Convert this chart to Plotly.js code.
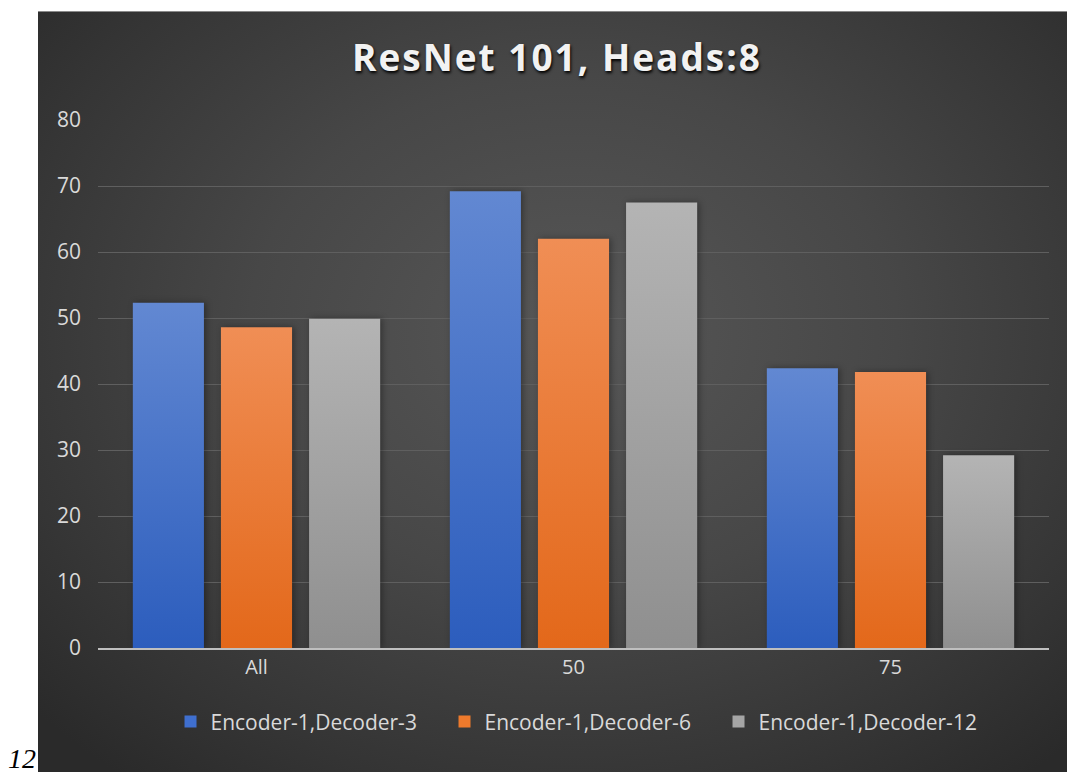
<!DOCTYPE html>
<html>
<head>
<meta charset="utf-8">
<script src="https://cdn.plot.ly/plotly-3.0.1.min.js"></script>
<style>
  html, body { margin: 0; padding: 0; width: 1067px; height: 772px; overflow: hidden; background: #ffffff; }
  #bg { position: absolute; left: 38px; top: 11px; width: 1029px; height: 761px;
        background: radial-gradient(ellipse 70% 75% at 52% 42%, #575757 0%, #474747 45%, #353535 80%, #2a2a2a 100%);
        border-top: 1px solid #8a8a8a; }
  #chart { position: absolute; left: 0; top: 0; width: 1067px; height: 772px; }
  #pagenum { position: absolute; left: 8px; top: 748px; font-family: "Liberation Serif", serif; font-style: italic;
             font-size: 28px; line-height: 22px; color: #000; }
</style>
</head>
<body>
<div id="bg"></div>
<div id="chart"></div>
<div id="pagenum">12</div>
<script>
const categories = ["All", "50", "75"];
const seriesNames = ["Encoder-1,Decoder-3", "Encoder-1,Decoder-6", "Encoder-1,Decoder-12"];
const dec3 = [52.3, 69.2, 42.4];
const dec6 = [48.6, 62.0, 41.8];
const dec12 = [49.9, 67.5, 29.2];
const yTicks = [0, 10, 20, 30, 40, 50, 60, 70, 80];

const solid = ["#3f6fcf", "#ee7a2c", "#a5a5a5"];
const gradTop = ["#6288d2", "#f08e55", "#b4b4b4"];
const gradBot = ["#2c5dbd", "#e3681a", "#8f8f8f"];

const values = [dec3, dec6, dec12];
const traces = values.map((v, i) => ({
  type: "bar",
  name: seriesNames[i],
  x: categories,
  y: v,
  marker: { color: solid[i], line: { width: 0 } },
  hoverinfo: "skip"
}));

const layout = {
  width: 1067, height: 772,
  paper_bgcolor: "rgba(0,0,0,0)",
  plot_bgcolor: "rgba(0,0,0,0)",
  margin: { l: 98, r: 18, t: 120, b: 124 },
  barmode: "group",
  bargap: 0.166,
  bargroupgap: 0.193,
  title: {
    text: "<b>ResNet 101, Heads:8</b>",
    x: 0.522, xref: "container", xanchor: "center",
    y: 0.925, yref: "container", yanchor: "middle",
    font: { family: "Open Sans, sans-serif", size: 37, color: "#f2f2f2", shadow: "1px 2px 3px #000" }
  },
  font: { family: "Open Sans, sans-serif", color: "#d9d9d9" },
  xaxis: {
    type: "category",
    showgrid: false,
    showline: true, linecolor: "#bfbfbf", linewidth: 2,
    ticks: "", ticklen: 0,
    tickfont: { size: 20, color: "#d9d9d9" },
    zeroline: false
  },
  yaxis: {
    range: [0, 80],
    tickvals: yTicks,
    ticktext: yTicks.map(String),
    showgrid: true, gridcolor: "#5f5f5f", gridwidth: 1,
    zeroline: false, showline: false,
    ticks: "", ticklabelstandoff: 16,
    tickfont: { size: 21, color: "#d9d9d9" }
  },
  showlegend: true,
  legend: {
    orientation: "h",
    x: 0.545, xanchor: "center", xref: "container",
    y: 0.065, yref: "container", yanchor: "middle",
    font: { size: 21, color: "#d9d9d9" },
    bgcolor: "rgba(0,0,0,0)",
    itemwidth: 30,
    entrywidth: 229, entrywidthmode: "pixels",
    traceorder: "normal"
  }
};

Plotly.newPlot("chart", traces, layout, { displayModeBar: false, staticPlot: true }).then(gd => {
  const svg = gd.querySelector(".main-svg");
  const ns = "http://www.w3.org/2000/svg";
  let defs = svg.querySelector("defs");
  if (!defs) { defs = document.createElementNS(ns, "defs"); svg.insertBefore(defs, svg.firstChild); }
  for (let i = 0; i < 3; i++) {
    const lg = document.createElementNS(ns, "linearGradient");
    lg.setAttribute("id", "bargrad" + i);
    lg.setAttribute("x1", "0"); lg.setAttribute("y1", "0");
    lg.setAttribute("x2", "0"); lg.setAttribute("y2", "1");
    const s1 = document.createElementNS(ns, "stop");
    s1.setAttribute("offset", "0"); s1.setAttribute("stop-color", gradTop[i]);
    const s2 = document.createElementNS(ns, "stop");
    s2.setAttribute("offset", "1"); s2.setAttribute("stop-color", gradBot[i]);
    lg.appendChild(s1); lg.appendChild(s2);
    defs.appendChild(lg);
  }
  const barTraces = gd.querySelectorAll(".barlayer .trace.bars");
  barTraces.forEach((t, i) => {
    t.querySelectorAll(".point path").forEach(p => {
      p.style.fill = "url(#bargrad" + i + ")";
      p.style.filter = "drop-shadow(2px 0px 3px rgba(0,0,0,0.35))";
    });
  });
  const title = gd.querySelector(".gtitle");
  if (title) title.style.letterSpacing = "2px";
});
</script>
</body>
</html>
